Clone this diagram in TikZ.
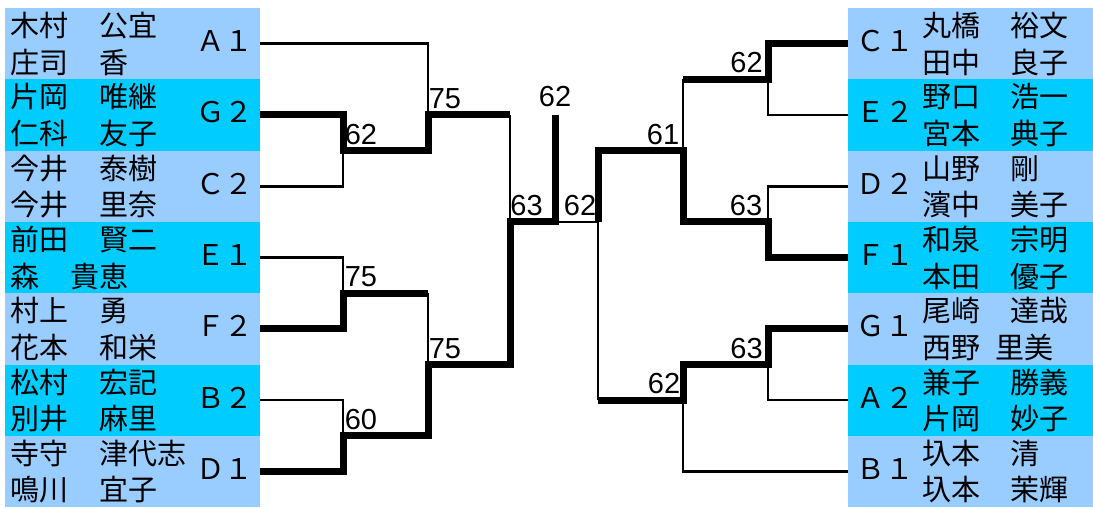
\documentclass[tikz,border=0pt]{standalone}
\usepackage{fontspec}
\newfontfamily\jpfont{Noto Sans CJK JP}
\newfontfamily\numfont{Liberation Sans}
\definecolor{paleblue}{HTML}{99CCFF}
\definecolor{skyblue}{HTML}{00CCFF}
\newcommand{\nmline}[3]{\makebox[#1][l]{#2}#3}
\begin{document}
\begin{tikzpicture}[x=1pt,y=-1pt,
  panelA/.style={fill=paleblue, draw=none, inner sep=0pt, outer sep=0pt, anchor=north west, minimum height=71.3pt},
  panelB/.style={panelA, fill=skyblue},
  lw/.style={minimum width=255pt},
  rw/.style={minimum width=245pt},
  nametext/.style={font=\jpfont\fontsize{29}{29}\selectfont, inner sep=0pt, anchor=base west},
  seedtext/.style={font=\jpfont\fontsize{28.5}{28.5}\selectfont, inner sep=0pt, anchor=base west},
  score/.style={font=\numfont\fontsize{29}{29}\selectfont, inner sep=0pt, anchor=base},
  win/.style={line width=7pt, line join=miter},
  lose/.style={line width=2.5pt},
]
\useasboundingbox (0,0) rectangle (1093,507);

% left panels
\node[panelA,lw] (pA1) at (5,8) {};
\node[panelB,lw] (pG2) at (5,79.3) {};
\node[panelA,lw] (pC2) at (5,150.6) {};
\node[panelB,lw] (pE1) at (5,221.9) {};
\node[panelA,lw] (pF2) at (5,293.2) {};
\node[panelB,lw] (pB2) at (5,364.5) {};
\node[panelA,lw] (pD1) at (5,435.8) {};
% right panels
\node[panelA,rw] (pC1) at (848,8) {};
\node[panelB,rw] (pE2) at (848,79.3) {};
\node[panelA,rw] (pD2) at (848,150.6) {};
\node[panelB,rw] (pF1) at (848,221.9) {};
\node[panelA,rw] (pG1) at (848,293.2) {};
\node[panelB,rw] (pA2) at (848,364.5) {};
\node[panelA,rw] (pB1) at (848,435.8) {};

% left texts
\node[nametext] (nA1a) at ([shift={(5.5,-7)}]pA1.west) {\nmline{88.5pt}{木村}{公宜}};
\node[nametext] (nA1b) at ([shift={(5.5,29.5)}]pA1.west) {\nmline{88.5pt}{庄司}{香}};
\node[seedtext] (sA1) at ([shift={(191,8)}]pA1.west) {Ａ１};
\node[nametext] (nG2a) at ([shift={(5.5,-7)}]pG2.west) {\nmline{88.5pt}{片岡}{唯継}};
\node[nametext] (nG2b) at ([shift={(5.5,29.5)}]pG2.west) {\nmline{88.5pt}{仁科}{友子}};
\node[seedtext] (sG2) at ([shift={(191,8)}]pG2.west) {Ｇ２};
\node[nametext] (nC2a) at ([shift={(5.5,-7)}]pC2.west) {\nmline{88.5pt}{今井}{泰樹}};
\node[nametext] (nC2b) at ([shift={(5.5,29.5)}]pC2.west) {\nmline{88.5pt}{今井}{里奈}};
\node[seedtext] (sC2) at ([shift={(191,8)}]pC2.west) {Ｃ２};
\node[nametext] (nE1a) at ([shift={(5.5,-7)}]pE1.west) {\nmline{88.5pt}{前田}{賢二}};
\node[nametext] (nE1b) at ([shift={(5.5,29.5)}]pE1.west) {\nmline{60pt}{森}{貴恵}};
\node[seedtext] (sE1) at ([shift={(191,8)}]pE1.west) {Ｅ１};
\node[nametext] (nF2a) at ([shift={(5.5,-7)}]pF2.west) {\nmline{88.5pt}{村上}{勇}};
\node[nametext] (nF2b) at ([shift={(5.5,29.5)}]pF2.west) {\nmline{88.5pt}{花本}{和栄}};
\node[seedtext] (sF2) at ([shift={(191,8)}]pF2.west) {Ｆ２};
\node[nametext] (nB2a) at ([shift={(5.5,-7)}]pB2.west) {\nmline{88.5pt}{松村}{宏記}};
\node[nametext] (nB2b) at ([shift={(5.5,29.5)}]pB2.west) {\nmline{88.5pt}{別井}{麻里}};
\node[seedtext] (sB2) at ([shift={(191,8)}]pB2.west) {Ｂ２};
\node[nametext] (nD1a) at ([shift={(5.5,-7)}]pD1.west) {\nmline{88.5pt}{寺守}{津代志}};
\node[nametext] (nD1b) at ([shift={(5.5,29.5)}]pD1.west) {\nmline{88.5pt}{鳴川}{宜子}};
\node[seedtext] (sD1) at ([shift={(191,8)}]pD1.west) {Ｄ１};

% right texts
\node[seedtext] (sC1) at ([shift={(8.5,8)}]pC1.west) {Ｃ１};
\node[nametext] (nC1a) at ([shift={(74,-7)}]pC1.west) {\nmline{88pt}{丸橋}{裕文}};
\node[nametext] (nC1b) at ([shift={(74,29.5)}]pC1.west) {\nmline{88pt}{田中}{良子}};
\node[seedtext] (sE2) at ([shift={(8.5,8)}]pE2.west) {Ｅ２};
\node[nametext] (nE2a) at ([shift={(74,-7)}]pE2.west) {\nmline{88pt}{野口}{浩一}};
\node[nametext] (nE2b) at ([shift={(74,29.5)}]pE2.west) {\nmline{88pt}{宮本}{典子}};
\node[seedtext] (sD2) at ([shift={(8.5,8)}]pD2.west) {Ｄ２};
\node[nametext] (nD2a) at ([shift={(74,-7)}]pD2.west) {\nmline{88pt}{山野}{剛}};
\node[nametext] (nD2b) at ([shift={(74,29.5)}]pD2.west) {\nmline{88pt}{濱中}{美子}};
\node[seedtext] (sF1) at ([shift={(8.5,8)}]pF1.west) {Ｆ１};
\node[nametext] (nF1a) at ([shift={(74,-7)}]pF1.west) {\nmline{88pt}{和泉}{宗明}};
\node[nametext] (nF1b) at ([shift={(74,29.5)}]pF1.west) {\nmline{88pt}{本田}{優子}};
\node[seedtext] (sG1) at ([shift={(8.5,8)}]pG1.west) {Ｇ１};
\node[nametext] (nG1a) at ([shift={(74,-7)}]pG1.west) {\nmline{88pt}{尾崎}{達哉}};
\node[nametext] (nG1b) at ([shift={(74,29.5)}]pG1.west) {\nmline{73pt}{西野}{里美}};
\node[seedtext] (sA2) at ([shift={(8.5,8)}]pA2.west) {Ａ２};
\node[nametext] (nA2a) at ([shift={(74,-7)}]pA2.west) {\nmline{88pt}{兼子}{勝義}};
\node[nametext] (nA2b) at ([shift={(74,29.5)}]pA2.west) {\nmline{88pt}{片岡}{妙子}};
\node[seedtext] (sB1) at ([shift={(8.5,8)}]pB1.west) {Ｂ１};
\node[nametext] (nB1a) at ([shift={(74,-7)}]pB1.west) {\nmline{88pt}{圦本}{清}};
\node[nametext] (nB1b) at ([shift={(74,29.5)}]pB1.west) {\nmline{88pt}{圦本}{茉輝}};

% junctions
\coordinate (a62) at (343,150.6);
\coordinate (a75top) at (428,114.95);
\coordinate (a63top) at (510,114.95);
\coordinate (a75) at (343,293.2);
\coordinate (a75r) at (428,293.2);
\coordinate (a60) at (343,435.8);
\coordinate (a75low) at (428,364.5);
\coordinate (a63) at (510,221.9);
\coordinate (champ) at (555,114.95);
\coordinate (cmid) at (555,221.9);
\coordinate (b62) at (768,79.3);
\coordinate (b62l) at (683,79.3);
\coordinate (b61) at (683,150.6);
\coordinate (b63) at (768,221.9);
\coordinate (b62c) at (598,221.9);
\coordinate (b63low) at (768,364.5);
\coordinate (b62low) at (683,400.15);
\coordinate (b62cl) at (598,400.15);

% left bracket
\draw[lose] (pA1.east) -| (a75top);
\draw[win] (pG2.east) -| (a62) -| (a75top) -- (a63top);
\draw[lose] (pC2.east) -| (a62);
\draw[lose] (a63top) -- (a63);
\draw[lose] (pE1.east) -| (a75);
\draw[win] (pF2.east) -| (a75) -- (a75r);
\draw[lose] (a75r) -- (a75low);
\draw[lose] (pB2.east) -| (a60);
\draw[win] (pD1.east) -| (a60) -| (a75low) -| (a63) -| (champ);
% centre
\draw[lose] (cmid) -- (b62c);
% right bracket
\draw[win] (pC1.west) -| (b62) -- (b62l);
\draw[lose] (b62l) -- (b61);
\draw[lose] (pE2.west) -| (b62);
\draw[lose] (pD2.west) -| (b63);
\draw[win] (pF1.west) -| (b63) -| (b61) -| (b62c);
\draw[win] (pG1.west) -| (b63low) -| (b62low) -- (b62cl);
\draw[lose] (b62cl) -- (b62c);
\draw[lose] (pA2.west) -| (b63low);
\draw[lose] (pB1.west) -| (b62low);

% scores
\node[score] (s62top) at (555,106.5) {62};
\node[score] (s63c) at (526.5,215) {63};
\node[score] (s62c) at (580,215) {62};
\node[score] (s75a) at (445,108.5) {75};
\node[score] (s62a) at (361,144.5) {62};
\node[score] (s75b) at (361,286.7) {75};
\node[score] (s75c) at (445,358) {75};
\node[score] (s60) at (361,429.3) {60};
\node[score] (s62r) at (746.5,72.8) {62};
\node[score] (s61) at (663,144) {61};
\node[score] (s63r) at (746,215.4) {63};
\node[score] (s63r2) at (746.5,358) {63};
\node[score] (s62r2) at (664,393.6) {62};
\end{tikzpicture}
\end{document}
